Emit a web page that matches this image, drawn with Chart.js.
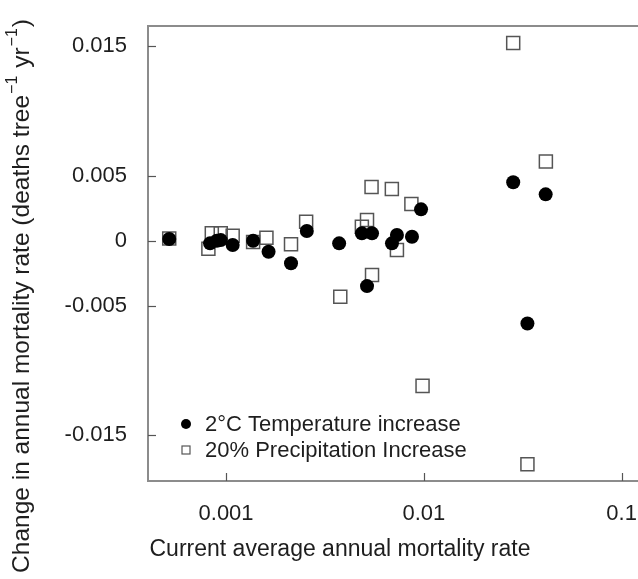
<!DOCTYPE html>
<html>
<head>
<meta charset="utf-8">
<script src="https://cdn.jsdelivr.net/npm/chart.js@4.4.0/dist/chart.umd.min.js"></script>
<style>
  html, body { margin: 0; padding: 0; background: #fff; }
</style>
</head>
<body>
<canvas id="chart" width="638" height="579"></canvas>
<script>
// values
const tempX = [0.000516, 0.00083, 0.000898, 0.00094, 0.00108, 0.00137, 0.00164, 0.00213, 0.00256, 0.00373,
  0.00486, 0.00516, 0.00547, 0.0069, 0.00731, 0.00871, 0.00968, 0.0283, 0.0334, 0.0413];
const tempY = [0.00013, -0.0002, 0, 0.00005, -0.00033, 0, -0.00085, -0.00174, 0.00075, -0.0002,
  0.00057, -0.0035, 0.00057, -0.0002, 0.00044, 0.00031, 0.00242, 0.00451, -0.00639, 0.00358];

const precipX = [0.000516, 0.000814, 0.000847, 0.00094, 0.00108, 0.00137, 0.0016, 0.00213, 0.00254, 0.00378,
  0.00486, 0.00516, 0.00544, 0.00547, 0.00689, 0.00731, 0.00865, 0.00985, 0.0283, 0.0334, 0.0414];
const precipY = [0.00018, -0.00062, 0.00057, 0.00057, 0.00039, -0.0001, 0.00023, -0.00028, 0.00147, -0.00432,
  0.00108, 0.0016, 0.00415, -0.00265, 0.004, -0.00072, 0.00283, -0.0112, 0.01526, -0.01724, 0.00611];

const seriesNames = ['2°C Temperature increase', '20% Precipitation Increase'];
const xTicks = [0.001, 0.01, 0.1];
const yTicks = [0.015, 0.005, 0, -0.005, -0.015];
const xTitle = 'Current average annual mortality rate';
// y title pieces: [text, is superscript]
const yTitleParts = [['Change in annual mortality rate (deaths tree', false], ['\u22121', true],
  [' yr', false], ['\u22121', true], [')', false]];

const FONT = '"Liberation Sans", Arial, sans-serif';
const AXIS = '#8c8c8c';
const INK = '#1e1e1e';

const toPoints = (xs, ys) => xs.map((x, i) => ({ x: x, y: ys[i] }));

// frame, inward ticks, titles and legend
const decorations = {
  id: 'decorations',
  afterDraw(chart) {
    const { ctx, chartArea: a } = chart;
    const xs = chart.scales.x, ys = chart.scales.y;
    ctx.save();
    ctx.strokeStyle = AXIS;
    ctx.lineWidth = 2;
    ctx.beginPath();
    ctx.moveTo(a.left - 1, a.top);
    ctx.lineTo(a.right, a.top);
    ctx.stroke();

    ctx.lineWidth = 1.2;
    ctx.strokeStyle = '#555';
    xTicks.forEach(v => {
      const px = Math.round(xs.getPixelForValue(v)) + 0.5;
      ctx.beginPath();
      ctx.moveTo(px, a.bottom);
      ctx.lineTo(px, a.bottom - 8);
      ctx.stroke();
    });
    yTicks.forEach(v => {
      const py = Math.round(ys.getPixelForValue(v)) + 0.5;
      ctx.beginPath();
      ctx.moveTo(a.left, py);
      ctx.lineTo(a.left + 8, py);
      ctx.stroke();
    });

    ctx.fillStyle = INK;
    ctx.font = '23px ' + FONT;
    ctx.textAlign = 'center';
    ctx.textBaseline = 'middle';
    ctx.fillText(xTitle, 340, 550);

    // rotated y title with real superscripts
    const mainFont = '24.5px ' + FONT, supFont = '16px ' + FONT;
    let total = 0;
    yTitleParts.forEach(([t, sup]) => {
      ctx.font = sup ? supFont : mainFont;
      total += ctx.measureText(t).width + (sup ? 2 : 0);
    });
    ctx.save();
    ctx.translate(22, 296);
    ctx.rotate(-Math.PI / 2);
    ctx.textAlign = 'left';
    let cx = -total / 2;
    yTitleParts.forEach(([t, sup]) => {
      ctx.font = sup ? supFont : mainFont;
      if (sup) cx += 1;
      ctx.fillText(t, cx, sup ? -9 : 0);
      cx += ctx.measureText(t).width + (sup ? 1 : 0);
    });
    ctx.restore();

    // legend
    ctx.font = '22px ' + FONT;
    ctx.textAlign = 'left';
    ctx.fillStyle = '#000';
    ctx.beginPath();
    ctx.arc(186, 424, 5, 0, Math.PI * 2);
    ctx.fill();
    ctx.strokeStyle = '#555';
    ctx.lineWidth = 1.2;
    ctx.strokeRect(182, 446, 8, 8);
    ctx.fillStyle = INK;
    ctx.fillText(seriesNames[0], 205, 425);
    ctx.fillText(seriesNames[1], 205, 451);
    ctx.restore();
  }
};

new Chart(document.getElementById('chart'), {
  type: 'scatter',
  data: {
    datasets: [
      {
        label: seriesNames[0],
        data: toPoints(tempX, tempY),
        pointStyle: 'circle',
        pointRadius: 7,
        backgroundColor: '#000',
        borderColor: '#000',
        borderWidth: 0,
      },
      {
        label: seriesNames[1],
        data: toPoints(precipX, precipY),
        pointStyle: 'rect',
        pointRadius: 9.2,
        backgroundColor: 'rgba(0,0,0,0)',
        borderColor: '#555',
        borderWidth: 1.5,
      },
    ],
  },
  options: {
    responsive: false,
    animation: false,
    devicePixelRatio: 1,
    // no auto padding, the plot runs to the right edge like the original
    layout: { autoPadding: false, padding: { top: 26, right: 0, left: 0, bottom: 0 } },
    plugins: {
      legend: { display: false },
      tooltip: { enabled: false },
    },
    scales: {
      x: {
        type: 'logarithmic',
        min: 0.000403,
        max: 0.121,
        afterBuildTicks: s => { s.ticks = xTicks.map(v => ({ value: v })); },
        afterFit: s => { s.height = 98; s.paddingLeft = 0; s.paddingRight = 0; },
        grid: { drawOnChartArea: false, drawTicks: false },
        border: { color: AXIS, width: 2 },
        ticks: {
          autoSkip: false,
          maxRotation: 0,
          padding: 20,
          color: INK,
          font: { family: FONT, size: 22 },
          callback: v => String(v),
        },
      },
      y: {
        min: -0.01854,
        max: 0.01657,
        afterBuildTicks: s => { s.ticks = yTicks.map(v => ({ value: v })); },
        afterFit: s => { s.width = 148; s.paddingTop = 0; s.paddingBottom = 0; },
        grid: { drawOnChartArea: false, drawTicks: false },
        border: { color: AXIS, width: 2 },
        ticks: {
          autoSkip: false,
          padding: 21,
          color: INK,
          font: { family: FONT, size: 22 },
          callback: v => String(v),
        },
      },
    },
  },
  plugins: [decorations],
});
</script>
</body>
</html>
